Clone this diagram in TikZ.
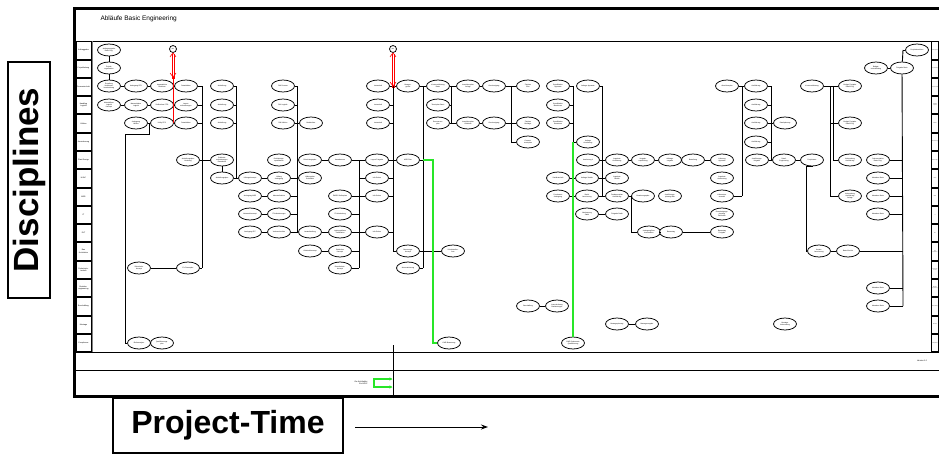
\documentclass[tikz,border=0pt]{standalone}
\usepackage{fontspec}
\setmainfont{Liberation Sans}
\usetikzlibrary{arrows.meta,shapes.geometric}
\definecolor{grn}{RGB}{40,230,40}
\begin{document}
\begin{tikzpicture}[x=1pt,y=-1pt,
 el/.style={draw, ellipse, line width=0.75pt, minimum width=23pt, minimum height=12pt, inner sep=0pt, font=\fontsize{1.7}{2}\selectfont, align=center, fill=white},
 cir/.style={draw, circle, line width=0.75pt, minimum size=7pt, inner sep=0pt, font=\fontsize{1.5}{1.7}\selectfont},
 con/.style={line width=0.75pt},
 bus/.style={line width=0.9pt},
 gline/.style={draw=grn, line width=1.1pt},
 redl/.style={draw=red, line width=0.6pt},
 lanebox/.style={draw, line width=0.5pt, minimum width=15pt, minimum height=17.3pt, inner sep=0pt, font=\fontsize{1.9}{2.2}\selectfont, align=center},
 laneboxr/.style={draw, line width=0.5pt, minimum width=7pt, minimum height=17.3pt, inner sep=0pt, font=\fontsize{1}{1.2}\selectfont, align=center},
 bigbox/.style={draw, line width=2.5pt, inner sep=0pt}
]
\useasboundingbox (0,0) rectangle (939,455);
\begin{scope}
\clip (0,0) rectangle (939,455);
% frame
\draw[line width=3pt] (950,8) -- (74,8) -- (74,396) -- (950,396);
\draw[line width=1pt] (74,41) -- (950,41);
\draw[line width=1pt] (74,352) -- (950,352);
\draw[line width=1pt] (74,370) -- (950,370);
\draw[line width=0.7pt] (393,345) -- (393,396);
\draw[gray, line width=1.2pt] (92,41) -- (92,352);
\draw[line width=0.8pt] (931,41) -- (931,352);
\node[anchor=west, font=\fontsize{6.5}{7}\selectfont] (title) at (97,19) {Abläufe Basic Engineering};
\node[font=\fontsize{2}{2.2}\selectfont] (ver) at (922,361) {Version 1.0};
% lanes
\foreach \i/\t in {0/Auftraggeber,1/Projektleitung,2/Prozesstechnik,3/{Handling\\Logistik},4/Utilities,5/Anreicherung,6/Plant Design,7/HVAC/MTT,8/MSR,9/IT,10/ELT,11/{Bau\\Architektur},12/{Sicherheits-\\technik},13/{Betriebs-\\engineering},14/Beschaffung,15/Montage,16/Compliance}{
 \pgfmathsetmacro\yc{41+18.294*(\i+0.5)}
 \node[lanebox] (lanel\i) at (83.5,\yc) {\t};
 \node[laneboxr] (laner\i) at (935,\yc) {\t};
}
\end{scope}
% big labels
\node[bigbox, rotate=90, minimum width=236pt, minimum height=42pt, font=\bfseries\fontsize{35}{40}\selectfont] (disc) at (29,180) {Disciplines};
\node[bigbox, minimum width=230pt, minimum height=55pt, font=\bfseries\fontsize{32}{36}\selectfont] (ptime) at (228,425.5) {Project-Time};
\coordinate (pt1) at (355,427);
\coordinate (pt2) at (488,427);
\draw[line width=1pt, -{Stealth[length=7pt,width=5pt]}] (pt1) -- (pt2);

% ===== ellipses left block
\node[el] (a109) at (109,50) {Auftragsvergabe\\Basic Eng.};
\node[el] (b109) at (109,68) {Projekt-\\organisation};
\node[el] (c109) at (109,86) {Erstellung\\Verfahrens-\\beschreibung};
\node[el] (d109) at (109,105) {Materialfluss\\Logistik\\Konzept};
\node[el] (c136) at (136,86) {Auslegung PFD};
\node[el] (d136) at (136,105) {Massenbilanz\\Logistik};
\node[el] (e136) at (136,123) {Auslegung\\Utilities};
\node[el] (c162) at (162,86) {Apparateliste\\Verfahren};
\node[el] (d162) at (162,105) {Stoffströme PFD};
\node[el] (e162) at (162,123) {Utility PFD};
\node[el] (c186) at (186,86) {Datenblätter};
\node[el] (d186) at (186,105) {Layout-\\anforderungen};
\node[el] (e186) at (186,123) {Datenblätter};
\node[el] (c222) at (222,86) {Aufstellung};
\node[el] (d222) at (222,105) {Aufstellung};
\node[el] (e222) at (222,123) {Aufstellung};
\node[el] (c283) at (283,86) {R\&I Prozess};
\node[el] (d283) at (283,105) {R\&I Logistik};
\node[el] (e283) at (283,123) {R\&I Utilities};
\node[el] (e311) at (311,123) {Medienliste};
\node[el] (c378) at (378,86) {Lastenheft};
\node[el] (d378) at (378,105) {Lastenheft};
\node[el] (e378) at (378,123) {Lastenheft};
\node[el] (g188) at (188,160) {Aufstellungsplan\\Vorabzug};
\node[el] (g222) at (222,160) {Gebäude-\\anforderungen\\Raumbuch};
\node[el] (h222) at (222,178) {Aufstellungsplan};
\node[el] (g279) at (279,160) {Rohrleitungs-\\spezifikation};
\node[el] (g310) at (310,160) {Rohrleitungsplan};
\node[el] (g340) at (340,160) {Kanaltrassen};
\node[el] (g377) at (377,160) {Layout Freigabe};
\node[el] (h250) at (250,178) {Lüftungskonzept};
\node[el] (h279) at (279,178) {Lüftung\\Auslegung};
\node[el] (h310) at (310,178) {Lüftungsplan\\Schemata};
\node[el] (h377) at (377,178) {Info Seiten};
\node[el] (i250) at (250,196) {Auslegung MSR};
\node[el] (i279) at (279,196) {Messstellenliste};
\node[el] (i340) at (340,196) {EMSR-Stellenplan};
\node[el] (i377) at (377,196) {Info Seiten};
\node[el] (j250) at (250,214) {Netzwerkkonzept};
\node[el] (j279) at (279,214) {IT-Anforderungen};
\node[el] (j340) at (340,214) {IT-Verkabelung};
\node[el] (k250) at (250,232) {Auslegung ELT};
\node[el] (k279) at (279,232) {Verbraucherliste};
\node[el] (k310) at (310,232) {Lastaufstellung};
\node[el] (k340) at (340,232) {Leistungsbilanz\\Trafostation};
\node[el] (k377) at (377,232) {Info Seiten};
\node[el] (l310) at (310,251) {Gebäudekonzept};
\node[el] (l340) at (340,251) {Statisches\\Konzept};
\node[el] (m139) at (139,268) {Sicherheits-\\konzept};
\node[el] (m188) at (188,268) {Ex-Zonenplan};
\node[el] (m340) at (340,268) {Brandschutz-\\konzept};
\node[el] (q139) at (139,343) {Risikoanalyse};
\node[el] (q162) at (162,343) {Qualifizierungs-\\plan};
% middle block
\node[el] (c408) at (408,86) {Mengen-\\gerüst};
\node[el] (g408) at (408,160) {MSR Plan};
\node[el] (l408) at (408,251) {Steuerungs-\\konzept};
\node[el] (m408) at (408,268) {Automatisierung};
\node[el] (l453) at (453,251) {Schnittstellen-\\liste};
\node[el] (q449) at (449,343) {GMP-Bewertung};
\node[el] (c438) at (438,86) {Kostenschätzung\\Basic};
\node[el] (d438) at (438,105) {Terminplan Basic};
\node[el] (e438) at (438,123) {Ressourcen-\\plan};
\node[el] (c468) at (468,86) {Investitionsplan\\Anlage};
\node[el] (e468) at (468,123) {Investitionsplan\\Gebäude};
\node[el] (c494) at (494,86) {Genehmigung};
\node[el] (e494) at (494,123) {Genehmigung};
\node[el] (c528) at (528,86) {Zeitplan\\Bau};
\node[el] (e528) at (528,123) {Zeitplan\\Montage};
\node[el] (f528) at (528,142) {Gesamt-\\terminplan};
\node[el] (c558) at (558,86) {Spezifikation\\Apparate};
\node[el] (d558) at (558,105) {Spezifikation\\Maschinen};
\node[el] (e558) at (558,123) {Spezifikation\\Armaturen};
\node[el] (c588) at (588,86) {Anfrage Apparate};
\node[el] (f588) at (588,142) {Anfrage\\Ausrüstung};
\node[el] (g588) at (588,160) {Ausrüstung II};
\node[el] (g617) at (617,160) {Angebote\\Ausrüstung};
\node[el] (g643) at (643,160) {Vergabe-\\empfehlung};
\node[el] (g670) at (670,160) {Auftrags-\\vergabe};
\node[el] (g693) at (693,160) {Bestellung};
\node[el] (g722) at (722,160) {Lieferung\\Apparate};
\node[el] (h558) at (558,178) {Sanitärtechnik};
\node[el] (h587) at (587,178) {Anfrage Sanitär};
\node[el] (h617) at (617,178) {Angebote\\Sanitär};
\node[el] (i558) at (558,196) {Fundament\\Auslegung};
\node[el] (i587) at (587,196) {Statik-\\berechnung};
\node[el] (i617) at (617,196) {Fundamentplan\\Ausführung};
\node[el] (i643) at (643,196) {Bewehrungsplan};
\node[el] (i670) at (670,196) {Ausführungs-\\planung Bau};
\node[el] (j587) at (587,214) {Abstimmung\\Statik};
\node[el] (j617) at (617,214) {Freigabe Statik};
\node[el] (k649) at (649,232) {Auslegung Bau-\\konstruktion};
\node[el] (k671) at (671,232) {Bauantrag};
\node[el] (k722) at (722,232) {Bauantrag\\Freigabe};
\node[el] (h722) at (722,178) {Angebote\\Auswertung};
\node[el] (i722) at (722,196) {Lieferanten-\\auswahl};
\node[el] (j722) at (722,214) {Genehmigungs-\\planung\\Behörden};
\node[el] (o528) at (528,306) {Beschaffung};
\node[el] (o557) at (557,306) {Ausschreibung\\Bauleistungen};
\node[el] (p617) at (617,324) {Montageplanung};
\node[el] (p647) at (647,324) {Montagevergabe};
\node[el] (p785) at (785,324) {Montage\\Vorbereitung};
\node[el] (q573) at (573,343) {GMP-Dokumente\\Qualifizierung};
% right block
\node[el] (c727) at (727,86) {Abschlussplan};
\node[el] (c756) at (756,86) {Ausführung};
\node[el] (d756) at (756,105) {Ausführung};
\node[el] (e756) at (756,123) {Ausführung};
\node[el] (e785) at (785,123) {Detailplanung};
\node[el] (f756) at (756,142) {Ausführung};
\node[el] (g757) at (757,160) {Ausführungs-\\freigabe};
\node[el] (g784) at (784,160) {Detail-\\Engineering};
\node[el] (g812) at (812,160) {Projektstart};
\node[el] (c812) at (812,86) {Kostenschätzung};
\node[el] (c850) at (850,86) {Budget Freigabe\\Detail-Eng.};
\node[el] (e850) at (850,123) {Budget Freigabe\\Detail-Eng.};
\node[el] (g850) at (850,160) {Vorbereitung\\Ausführung};
\node[el] (i850) at (850,196) {Vorbereitung\\Ausführung\\Anlage};
\node[el] (b876) at (876,68) {Budget-\\entscheidung};
\node[el] (b902) at (902,68) {Freigabe Basic};
\node[el] (a917) at (917,50) {Projektabschluss};
\node[el] (g878) at (878,160) {Dokumentation\\Basic Eng.};
\node[el] (h878) at (878,178) {Abnahme Basic};
\node[el] (i878) at (878,196) {Abnahme Basic};
\node[el] (j878) at (878,214) {Abnahme Basic};
\node[el] (n878) at (878,288) {Abnahme Basic};
\node[el] (o878) at (878,306) {Abnahme Basic};
\node[el] (l819) at (819,251) {Kosten-\\berechnung};
\node[el] (l848) at (848,251) {Basic-Bericht};
% milestones
\node[cir] (ms1) at (173,49) {M1};
\node[cir] (ms2) at (393,49) {M2};

% ===== bus coordinates
\coordinate (v202t) at (202,86);  \coordinate (v202b) at (202,268);
\coordinate (v236t) at (236,86);  \coordinate (v236b) at (236,178);
\coordinate (v297t) at (297,86);  \coordinate (v297b) at (297,232);
\coordinate (v359t) at (359,160); \coordinate (v359b) at (359,268);
\coordinate (v393t) at (393,86);  \coordinate (v393b) at (393,251);
\coordinate (v423t) at (423,86);  \coordinate (v423b) at (423,268);
\coordinate (v451t) at (451,86);  \coordinate (v451b) at (451,123);
\coordinate (v511t) at (511,86);  \coordinate (v511b) at (511,142);
\coordinate (v573t) at (573,86);  \coordinate (v573m) at (573,142);
\coordinate (v602t) at (602,86);  \coordinate (v602b) at (602,196);
\coordinate (v631t) at (631,196); \coordinate (v631b) at (631,232);
\coordinate (v742t) at (742,86);  \coordinate (v742b) at (742,196);
\coordinate (v771t) at (771,86);  \coordinate (v771b) at (771,160);
\coordinate (v830t) at (830,86);  \coordinate (v830b) at (830,196);
\coordinate (v833t) at (833,86);  \coordinate (v833b) at (833,160);
\coordinate (v903t) at (903,50);  \coordinate (v903b) at (903,306);
\coordinate (rj) at (173,77); \coordinate (rb) at (173,123);
\coordinate (lj) at (149,123);

% ===== connectors
\draw[con] (a109) -- (b109);
\draw[con] (b109) -- (c109);
\draw[con] (c109) -- (c136) -- (c162) -- (c186);
\draw[con] (d109) -- (d136) -- (d162) -- (d186);
\draw[con] (e136) -- (e162) -- (e186);
\draw[con] (lj) -- (149,134) -| (125,343) -- (q139);
\draw[con] (q139) -- (q162);
\draw[bus] (v202t) -- (v202b);
\foreach \n in {c186,d186,e186,g188,m188} \draw[con] (\n) -- (\n -| v202t);
\draw[con] (m139) -- (m188);
\draw[con] (g188) -- (g222);
\draw[con] (g222) -- (h222);
\draw[bus] (v236t) -- (v236b);
\foreach \n in {c222,d222,e222,h222,h250} \draw[con] (\n) -- (\n -| v236t);
\draw[con] (h250) -- (h279);
\draw[con] (i250) -- (i279);
\draw[con] (j250) -- (j279);
\draw[con] (k250) -- (k279);
\draw[bus] (v297t) -- (v297b);
\foreach \n in {c283,d283,e283,e311,h279,i279,j279,k279,h310,k310} \draw[con] (\n) -- (\n -| v297t);
\draw[con] (g310) -- (g340);
\draw[con] (k310) -- (k340);
\draw[con] (l310) -- (l340);
\draw[bus] (v359t) -- (v359b);
\foreach \n in {g340,i340,j340,k340,l340,m340,g377,h377,i377,k377} \draw[con] (\n) -- (\n -| v359t);
\draw[bus] (v393t) -- (v393b);
\foreach \n in {c378,d378,e378,g377,h377,i377,k377,c408,g408,l408} \draw[con] (\n) -- (\n -| v393t);
\draw[bus] (v423t) -- (v423b);
\foreach \n in {c408,c438,g408,l408,l453,m408} \draw[con] (\n) -- (\n -| v423t);
\draw[bus] (v451t) -- (v451b);
\foreach \n in {c438,d438,e438,c468,e468} \draw[con] (\n) -- (\n -| v451t);
\draw[con] (c468) -- (c494);
\draw[con] (e468) -- (e494);
\draw[bus] (v511t) -- (v511b);
\foreach \n in {c494,e494,c528,e528,f528} \draw[con] (\n) -- (\n -| v511t);
\draw[bus] (v573t) -- (v573m);
\foreach \n in {c558,d558,e558,f588,h558,h587,i558,i587} \draw[con] (\n) -- (\n -| v573t);
\draw[bus] (v602t) -- (v602b);
\foreach \n in {c588,g588,g617,h587,h617,i587,i617} \draw[con] (\n) -- (\n -| v602t);
\draw[con] (g617) -- (g643) -- (g670) -- (g693) -- (g722);
\draw[con] (i617) -- (i643);
\draw[bus] (v631t) -- (v631b);
\draw[con] (k649) -- (k649 -| v631t);
\draw[con] (k649) -- (k671) -- (k722);
\draw[con] (j587) -- (j617);
\draw[bus] (v742t) -- (v742b);
\foreach \n in {c727,c756,i722} \draw[con] (\n) -- (\n -| v742t);
\draw[bus] (v771t) -- (v771b);
\foreach \n in {c756,d756,e756,f756,g757,e785,g784} \draw[con] (\n) -- (\n -| v771t);
\draw[con] (g784) -- (g812);
\draw[con] (g812) -- (812,166) -| (806,251) -- (l819);
\draw[con] (l819) -- (l848);
\draw[bus] (v830t) -- (v830b);
\foreach \n in {c812,c850,e850,i850} \draw[con] (\n) -- (\n -| v830t);
\draw[bus] (v833t) -- (v833b);
\draw[con] (g850) -- (g850 -| v833t);
\draw[con] (b876) -- (b902);
\draw[bus] (v903t) -- (b902);
\draw[bus] (b902) -- (v903b);
\draw[con] (v903t) -- (a917);
\foreach \n in {g878,h878,i878,j878,n878,o878,l848} \draw[con] (\n) -- (\n -| v903t);
\draw[con] (o528) -- (o557);
\draw[con] (p617) -- (p647);
% red milestone arrows (double shaft, open heads)
\draw[redl] ([xshift=-1.2pt,yshift=-1.5pt]ms1.south) -- ([xshift=-1.2pt,yshift=-1.5pt]rj);
\draw[redl] ([xshift=1.2pt,yshift=-1.5pt]ms1.south) -- ([xshift=1.2pt,yshift=-1.5pt]rj);
\draw[redl] ([xshift=-3pt,yshift=-4pt]ms1.south) -- (ms1.south) -- ([xshift=3pt,yshift=-4pt]ms1.south);
\draw[redl] ([xshift=-3pt,yshift=4pt]rj) -- (rj) -- ([xshift=3pt,yshift=4pt]rj);
\draw[red, line width=0.8pt] (rj) -- (rb);
\draw[redl] ([xshift=-1.2pt,yshift=-1.5pt]ms2.south) -- ([xshift=-1.2pt,yshift=-1.5pt]v393t);
\draw[redl] ([xshift=1.2pt,yshift=-1.5pt]ms2.south) -- ([xshift=1.2pt,yshift=-1.5pt]v393t);
\draw[redl] ([xshift=-3pt,yshift=-4pt]ms2.south) -- (ms2.south) -- ([xshift=3pt,yshift=-4pt]ms2.south);
\draw[redl] ([xshift=-3pt,yshift=4pt]v393t) -- (v393t) -- ([xshift=3pt,yshift=4pt]v393t);
% green links
\draw[gline] (g408 -| v423t) -| (433,343) -- (q449);
\draw[gline] (v573m) -- (q573);
% bottom band
\coordinate (gb1) at (392.5,379);
\coordinate (gb2) at (392.5,387);
\draw[gline, {Stealth[length=3pt,width=3pt]}-{Stealth[length=3pt,width=3pt]}] (gb1) -- (374,379) -- (374,387) -- (gb2);
\node[anchor=east, align=right, font=\fontsize{2}{2.4}\selectfont] (golabel) at (371,383) {Go-Architektur\\Go HGIC};
\end{tikzpicture}
\end{document}
